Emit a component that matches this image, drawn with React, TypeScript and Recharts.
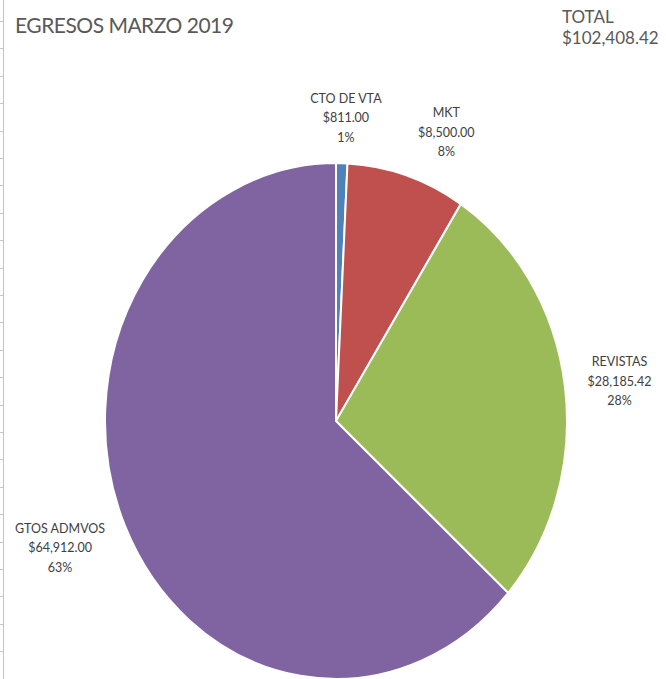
import React from 'react';
import { PieChart, Pie, Cell } from 'recharts';

const categories = ['CTO DE VTA', 'MKT', 'REVISTAS', 'GTOS ADMVOS'];
const values = [811, 8500, 28185.42, 64912];
const colors = ['#4F81BD', '#C0504D', '#9BBB59', '#8064A2'];
const title = 'EGRESOS MARZO 2019';
const totalLabel = 'TOTAL';

// label placement tweaks (px) — styling only
const labelNudgeX = [3, 26, 10, -24];
const labelNudgeY = [5, 5, 2, 1];

const data = categories.map((name, i) => ({ name, value: values[i] }));
const total = values.reduce((a, b) => a + b, 0);

const K = 258 / 231; // vertical stretch of the original picture
const W = 666;
const H = 679;
const MARGIN = 5; // recharts default chart margin
const CX = 336 - MARGIN;
const CY = 421 / K - MARGIN;
const R = 231;
const FONT = 'Lato, "Open Sans", sans-serif';

const money = (v: number) =>
  '$' + v.toLocaleString('en-US', { minimumFractionDigits: 2, maximumFractionDigits: 2 });

const renderLabel = (props: any) => {
  const { cx, cy, midAngle, outerRadius, percent, index, name, value } = props;
  const RAD = Math.PI / 180;
  const r = outerRadius + 45;
  const x = cx + r * Math.cos(-midAngle * RAD) + labelNudgeX[index];
  const y = cy + r * Math.sin(-midAngle * RAD) + labelNudgeY[index] / K;
  return (
    <g transform={`translate(${x},${y}) scale(1,${1 / K})`}>
      <text
        textAnchor="middle"
        fill="#404040"
        fontFamily={FONT}
        fontSize={12.5}
      >
        <tspan x={0} y={-19.5} dy="0.35em">{name}</tspan>
        <tspan x={0} y={0} dy="0.35em">{money(value)}</tspan>
        <tspan x={0} y={19.5} dy="0.35em">{Math.round(percent * 100)}%</tspan>
      </text>
    </g>
  );
};

export default function App() {
  return (
    <div
      style={{
        position: 'absolute',
        left: 0,
        top: 0,
        width: W,
        height: H,
        overflow: 'hidden',
        background: '#ffffff',
      }}
    >
      {/* sheet gridline edge */}
      <div
        style={{
          position: 'absolute',
          left: 0,
          top: 0,
          width: 3,
          height: H,
          backgroundImage:
            'repeating-linear-gradient(to bottom, transparent 0px, transparent 21px, #c8c8c8 21px, #c8c8c8 22px, transparent 22px, transparent 27.4px)',
        }}
      />
      <div
        style={{
          position: 'absolute',
          left: 3,
          top: 0,
          width: 1,
          height: H,
          background: '#c4c4c4',
        }}
      />
      <div
        style={{
          position: 'absolute',
          left: 0,
          top: 0,
          width: W,
          height: H / K,
          transform: `scale(1, ${K})`,
          transformOrigin: '0 0',
        }}
      >
        <PieChart width={W} height={Math.round(H / K)}>
          <Pie
            data={data}
            dataKey="value"
            nameKey="name"
            cx={CX}
            cy={CY}
            outerRadius={R}
            startAngle={90}
            endAngle={-270}
            stroke="#ffffff"
            strokeWidth={2}
            label={renderLabel}
            labelLine={false}
            isAnimationActive={false}
          >
            {data.map((d, i) => (
              <Cell key={d.name} fill={colors[i]} />
            ))}
          </Pie>
        </PieChart>
      </div>
      <div
        style={{
          position: 'absolute',
          left: 15,
          top: 10,
          fontFamily: FONT,
          fontSize: 21,
          letterSpacing: -0.5,
          color: '#595959',
          whiteSpace: 'nowrap',
          lineHeight: '30px',
        }}
      >
        {title}
      </div>
      <div
        style={{
          position: 'absolute',
          left: 562,
          top: 6,
          fontFamily: FONT,
          fontSize: 17,
          color: '#595959',
          whiteSpace: 'nowrap',
          lineHeight: '21px',
        }}
      >
        <div>{totalLabel}</div>
        <div>{money(total)}</div>
      </div>
    </div>
  );
}
